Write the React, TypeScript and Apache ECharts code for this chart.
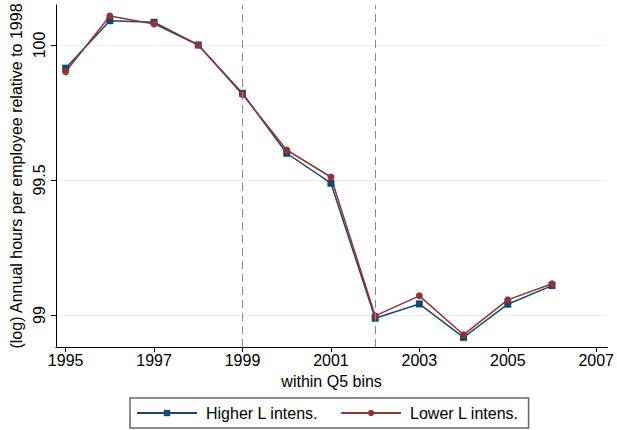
import React, { useEffect, useRef } from 'react';
import * as echarts from 'echarts';

// 年份与两组序列
const years = [1995, 1996, 1997, 1998, 1999, 2000, 2001, 2002, 2003, 2004, 2005, 2006];
const higherL = [99.914, 100.09, 100.084, 100.0, 99.821, 99.599, 99.488, 98.988, 99.041, 98.917, 99.04, 99.109];
const lowerL = [99.901, 100.107, 100.078, 100.0, 99.817, 99.611, 99.511, 98.997, 99.071, 98.927, 99.056, 99.116];
const xTicks = [1995, 1997, 1999, 2001, 2003, 2005, 2007];
const yTicks = [99, 99.5, 100];
const breakYears = [1999, 2002];

const FONT = "'Liberation Sans', Arial, sans-serif";

const App = () => {
    const chartRef = useRef(null);

    useEffect(() => {
        const chart = echarts.init(chartRef.current, null, { renderer: 'svg' });

        const options = {
            animation: false,
            backgroundColor: '#fff',
            textStyle: { fontFamily: FONT, color: '#000' },
            grid: { left: 55, right: 6, top: 5, bottom: 83 },
            legend: {
                top: 398,
                left: 130,
                padding: [7, 10, 7, 6],
                borderColor: '#666',
                borderWidth: 1.5,
                itemWidth: 60,
                itemHeight: 8,
                itemGap: 22,
                textStyle: { fontSize: 16, fontFamily: FONT, color: '#000', padding: [0, 0, 0, 4] },
                data: ['Higher L intens.', 'Lower L intens.']
            },
            xAxis: {
                type: 'value',
                min: 1994.78,
                max: 2007.25,
                name: 'within Q5 bins',
                nameLocation: 'middle',
                nameGap: 26,
                nameTextStyle: { fontSize: 16, color: '#000' },
                axisLine: { lineStyle: { color: '#000', width: 1 } },
                axisTick: { show: true, length: 5, customValues: xTicks, lineStyle: { color: '#000' } },
                axisLabel: { customValues: xTicks, fontSize: 16, color: '#000', margin: 5, formatter: (v) => String(v) },
                splitLine: { show: false }
            },
            yAxis: {
                type: 'value',
                min: 98.8815,
                max: 100.148,
                name: '(log) Annual hours per employee relative to 1998',
                nameLocation: 'middle',
                nameRotate: 90,
                nameGap: 29,
                nameTextStyle: { fontSize: 16, color: '#000' },
                axisLine: { show: true, lineStyle: { color: '#000', width: 1 } },
                axisTick: { show: true, length: 5, customValues: yTicks, lineStyle: { color: '#000' } },
                axisLabel: { customValues: yTicks, rotate: 90, fontSize: 16, color: '#000', margin: 8, formatter: (v) => String(v) },
                splitLine: { show: true, lineStyle: { color: '#e6eff1', width: 1 } }
            },
            series: [
                {
                    name: 'Higher L intens.',
                    type: 'line',
                    data: years.map((y, i) => [y, higherL[i]]),
                    color: '#1a476f',
                    lineStyle: { width: 1.5 },
                    symbol: 'rect',
                    symbolSize: 7,
                    markLine: {
                        silent: true,
                        symbol: ['none', 'none'],
                        label: { show: false },
                        lineStyle: { color: '#888', type: [8, 5], width: 1 },
                        data: breakYears.map((y) => ({ xAxis: y }))
                    }
                },
                {
                    name: 'Lower L intens.',
                    type: 'line',
                    data: years.map((y, i) => [y, lowerL[i]]),
                    color: '#90353b',
                    lineStyle: { width: 1.5 },
                    symbol: 'circle',
                    symbolSize: 7
                }
            ]
        };

        chart.setOption(options);

        return () => {
            chart.dispose();
        };
    }, []);

    return (
        <div ref={chartRef} style={{ position: 'fixed', left: 0, top: 0, width: '617px', height: '430px' }}></div>
    );
};

export default App;
